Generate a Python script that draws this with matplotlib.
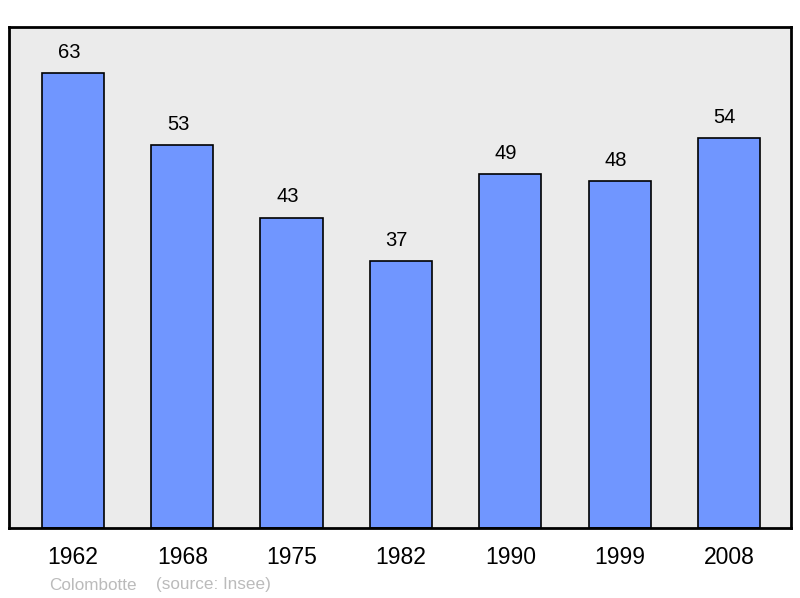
import matplotlib
matplotlib.use("Agg")
from matplotlib import pyplot as plt

years = ["1962", "1968", "1975", "1982", "1990", "1999", "2008"]
population = [63, 53, 43, 37, 49, 48, 54]

plt.rcParams['font.family'] = ['Liberation Sans', 'DejaVu Sans']

fig = plt.figure(figsize=(8, 5.98), dpi=100)
ax = fig.add_axes([9 / 800, 70 / 598, 782 / 800, 501 / 598])
ax.set_facecolor("#ebebeb")

x = range(len(years))
bars = ax.bar(x, population, width=0.57, color="#7096ff",
              edgecolor="black", linewidth=1.2, zorder=2)

for xi, v in zip(x, population):
    ax.annotate(str(v), (xi, v), xytext=(-3, 8), textcoords="offset points",
                ha="center", va="bottom", fontsize=14.5)

ax.set_xlim(-0.585, 6.567)
ax.set_ylim(0, 69.4)
ax.set_xticks(list(x))
ax.set_xticklabels(years, fontsize=16.5)
ax.tick_params(axis="x", length=0, pad=13)
ax.set_yticks([])
for s in ax.spines.values():
    s.set_linewidth(2)

fig.text(49 / 800, 1 - 585 / 598, "Colombotte", color="#bbbbbb",
         fontsize=12.3, va="center", ha="left")
fig.text(156 / 800, 1 - 585 / 598, "(source: Insee)", color="#bbbbbb",
         fontsize=12.3, va="center", ha="left")

fig.savefig("out.png", dpi=100)
